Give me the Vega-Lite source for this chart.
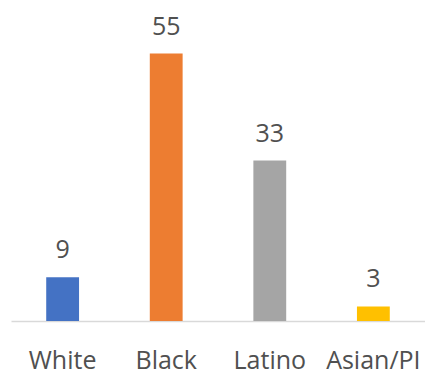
{
  "$schema": "https://vega.github.io/schema/vega-lite/v6.json",
  "autosize": {"type": "none"},
  "padding": {"left": 11, "top": 0, "right": 0, "bottom": 50},
  "width": 414,
  "height": 321,
  "background": "white",
  "config": {"view": {"stroke": null}, "font": "Open Sans"},
  "data": {"values": [
    {"group": "White", "value": 9, "color": "#4472C4"},
    {"group": "Black", "value": 55, "color": "#ED7D31"},
    {"group": "Latino", "value": 33, "color": "#A5A5A5"},
    {"group": "Asian/PI", "value": 3, "color": "#FFC000"}
  ]},
  "encoding": {
    "x": {"field": "group", "type": "nominal", "sort": null,
      "scale": {"paddingInner": 0.683, "paddingOuter": 0.34},
      "axis": {"title": null, "ticks": false, "labelAngle": 0, "domainColor": "#D9D9D9", "domainWidth": 1.5,
        "labelFontSize": 25, "labelColor": "#505050", "labelBaseline": "alphabetic", "labelPadding": 47, "labelFont": "Open Sans"}},
    "y": {"field": "value", "type": "quantitative", "scale": {"domain": [0, 66]}, "axis": null}
  },
  "layer": [
    {"mark": {"type": "bar"}, "encoding": {"color": {"field": "color", "type": "nominal", "scale": null}}},
    {"mark": {"type": "text", "baseline": "alphabetic", "dy": -19, "fontSize": 25, "color": "#505050", "font": "Open Sans"},
      "encoding": {"text": {"field": "value", "type": "quantitative"}}}
  ]
}
